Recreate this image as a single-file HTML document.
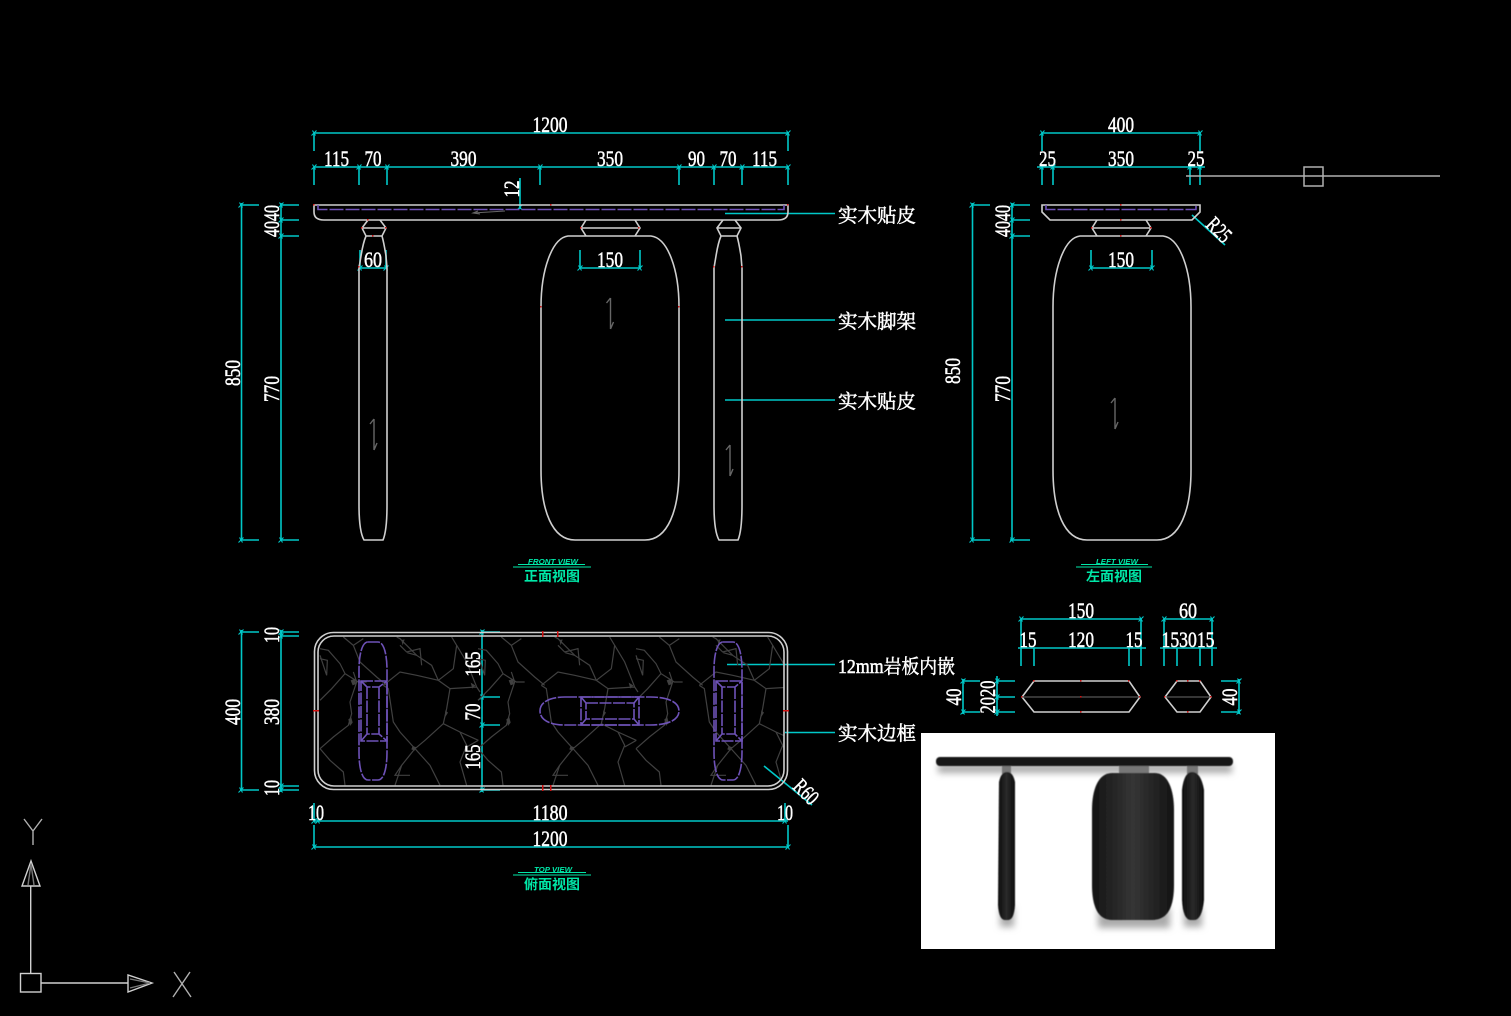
<!DOCTYPE html>
<html><head><meta charset="utf-8"><style>
html,body{margin:0;padding:0;background:#000;width:1511px;height:1016px;overflow:hidden}
svg{display:block;position:absolute;left:0;top:0}
.d{font:22px "Liberation Serif",serif;fill:#fff;text-anchor:middle;stroke:#fff;stroke-width:.5}
.c{font:19.5px "Liberation Serif","Noto Serif CJK SC",serif;fill:#fff;stroke:#fff;stroke-width:.5}
.g{font:13.5px "Noto Sans CJK SC",sans-serif;font-weight:700;fill:#00e8a8;text-anchor:middle}
.e{font:italic 700 7.5px "Liberation Sans",sans-serif;fill:#00e8a8;text-anchor:middle}
.cy{stroke:#00c8c8;stroke-width:1.6;fill:none}
.w{stroke:#cfcfcf;stroke-width:1.6;fill:none}
.p{stroke:#6e52b8;stroke-width:1.6;fill:none;stroke-dasharray:14 2}
.v{stroke:#404040;stroke-width:3.6;fill:none}
.r{fill:#d01010}
</style></head><body>
<svg width="1511" height="1016" viewBox="0 0 1511 1016" xmlns="http://www.w3.org/2000/svg">
<defs>
<linearGradient id="lg" x1="0" x2="1" y1="0" y2="0"><stop offset="0" stop-color="#141414"/><stop offset=".5" stop-color="#353535"/><stop offset="1" stop-color="#141414"/></linearGradient>
<linearGradient id="lk" x1="0" x2="1" y1="0" y2="0"><stop offset="0" stop-color="#0c0c0c"/><stop offset=".5" stop-color="#2a2a2a"/><stop offset="1" stop-color="#0c0c0c"/></linearGradient>
<path id="x" d="M-2.500 2.500L2.500 -2.500M-1.500 -2.500L1.500 2.500" stroke="#00c8c8" stroke-width="1.100" fill="none"/>
<path id="body" d="M568 236L651 236C668 238 679 270 679 307L679 470C679 510 668 540 645 540L575 540C552 540 541 510 541 470L541 307C541 270 552 238 568 236Z" class="w"/>
<path id="leg" d="M368 220L362 228L366 236L382 236L386 228L380 220M362 228L386 228M366 236C363 243 362 250 361 256L359 268L359 505C359 520 360 533 364 540L383 540C386 533 387 520 387 505L387 268L386 256C385 250 384 243 382 236" class="w"/>
<path id="neck" d="M586 220L581 228L586 236M635 220L640 228L635 236M581 228L640 228" class="w"/>
<g id="tile">
<g transform="translate(320 632) scale(.3333)">
<path class="v" d="M0 205L35 170L75 125L115 150L140 150M75 125L60 95L25 55L0 50"/>
<path class="v" d="M0 350L40 315L85 280L95 245L90 210L110 150L100 120"/>
<path class="v" d="M190 160L240 120L290 130L355 145L390 170L380 230L370 275L315 325L285 350L240 300L220 270L205 170L190 160"/>
<path class="v" d="M285 350L330 400L360 460M285 350L245 400L225 460M0 350L30 385L70 420L75 460"/>
<path class="v" d="M370 275L420 300L475 325M355 145L335 100L290 70L240 20L230 15M355 145L400 110L410 40L395 15"/>
<path class="v" d="M410 40L440 90L470 165L480 180M390 170L470 165M240 40L260 60L300 50L305 100M262 62L290 70"/>
<path class="v" d="M0 70L20 130L22 85L0 80M70 15L100 40L130 20M100 40L120 90L170 135L200 160"/>
<path class="v" d="M245 400L225 430L270 430M420 300L440 340L420 390L440 460M475 325L440 345"/>
<path d="M85 262L94 256L98 272L90 282ZM278 342L290 346L284 356L274 352ZM376 235L384 242L374 258ZM452 152L466 160L457 170ZM244 24L254 22L248 40ZM92 145L106 140L108 156L98 160Z" fill="#404040"/>
</g>
</g>
<clipPath id="cp"><rect x="318" y="636" width="466" height="150" rx="16"/></clipPath>
<filter id="b1" x="-30%" y="-30%" width="160%" height="160%"><feGaussianBlur stdDeviation="3.500"/></filter>
<filter id="b0"><feGaussianBlur stdDeviation=".5"/></filter>
<path id="arr" d="M0 -16V15M-4 -11L0 -16M0 15L3 8" stroke="#666" stroke-width="1.400" fill="none"/>
<path id="cap" d="M368 642H378C384 642 387 655 387 670V752C387 768 384 780 378 780H368C362 780 359 768 359 752V670C359 655 362 642 368 642Z"/>
</defs>

<g class="cy">
<path d="M314 133H788M314 133V151M788 133V151"/>
<path d="M314 167H788M314 167V185M359 167V185M387 167V185M540 167V185M679 167V185M714 167V185M742 167V185M788 167V185"/>
<path d="M520 178V209"/>
<path d="M241.500 203V540M240 205H259M240 540H259M281 203V540M280 205H299M280 220H299M280 236H299M280 540H299"/>
<path d="M360 250V268H386M386 250V268M580 250V268H640V250"/>
<path d="M725 213.500H835M725 320H835M725 400H835"/>
<path d="M1042 133H1200M1042 133V151M1200 133V151M1037 167H1205M1042 167V185M1053 167V185M1190 167V185M1200 167V185"/>
<path d="M972.500 203V540M972 205H990M972 540H990M1012 203V540M1011 205H1030M1011 220H1030M1011 236H1030M1010 540H1030M1091 250V268H1152V250"/>
<path d="M1192 215L1225 245"/>
<path d="M241.500 630V790M240 632H259M240 790H259M281 630V792M280 632H299M280 636H299M280 786H299M280 790H299"/>
<path d="M482 630V792M482 632H500M482 697H500M482 725H500M482 790H500"/>
<path d="M314 821H788M314 825V847H788V825M314 803V821M785 803V821"/>
<path d="M785 732.500H835M727 664.500H835M764 766L812 805"/>
<path d="M1021 619H1141M1021 619V666M1141 619V666M1034 648V666M1129 648V666M1018 648H1146"/>
<path d="M1164 619H1212M1164 619V666M1212 619V666M1177 648V666M1200 648V666M1160 648H1217"/>
<path d="M963 679V714M963 681H980M963 712H980M997 676V716M997 681H1015M997 697H1015M997 712H1015M1239 679V714M1221 681H1240M1221 712H1240"/>
</g>
<g>
<use href="#x" x="314" y="133"/><use href="#x" x="788" y="133"/>
<use href="#x" x="314" y="167"/><use href="#x" x="359" y="167"/><use href="#x" x="387" y="167"/><use href="#x" x="540" y="167"/><use href="#x" x="679" y="167"/><use href="#x" x="714" y="167"/><use href="#x" x="742" y="167"/><use href="#x" x="788" y="167"/>
<use href="#x" x="241" y="205"/><use href="#x" x="241" y="540"/><use href="#x" x="281" y="205"/><use href="#x" x="281" y="220"/><use href="#x" x="281" y="236"/><use href="#x" x="281" y="540"/>
<use href="#x" x="360" y="268"/><use href="#x" x="386" y="268"/><use href="#x" x="580" y="268"/><use href="#x" x="640" y="268"/>
<use href="#x" x="520" y="207"/>
<use href="#x" x="1042" y="133"/><use href="#x" x="1200" y="133"/><use href="#x" x="1042" y="167"/><use href="#x" x="1053" y="167"/><use href="#x" x="1190" y="167"/><use href="#x" x="1200" y="167"/>
<use href="#x" x="972" y="205"/><use href="#x" x="972" y="540"/><use href="#x" x="1012" y="205"/><use href="#x" x="1012" y="220"/><use href="#x" x="1012" y="236"/><use href="#x" x="1012" y="540"/>
<use href="#x" x="1091" y="268"/><use href="#x" x="1152" y="268"/>
<use href="#x" x="241" y="632"/><use href="#x" x="241" y="790"/><use href="#x" x="281" y="632"/><use href="#x" x="281" y="636"/><use href="#x" x="281" y="786"/><use href="#x" x="281" y="790"/>
<use href="#x" x="482" y="632"/><use href="#x" x="482" y="697"/><use href="#x" x="482" y="725"/><use href="#x" x="482" y="790"/>
<use href="#x" x="314" y="821"/><use href="#x" x="318" y="821"/><use href="#x" x="785" y="821"/><use href="#x" x="314" y="847"/><use href="#x" x="788" y="847"/>
<use href="#x" x="1021" y="619"/><use href="#x" x="1141" y="619"/><use href="#x" x="1164" y="619"/><use href="#x" x="1212" y="619"/>
<use href="#x" x="963" y="681"/><use href="#x" x="963" y="712"/><use href="#x" x="997" y="681"/><use href="#x" x="997" y="697"/><use href="#x" x="997" y="712"/><use href="#x" x="1239" y="681"/><use href="#x" x="1239" y="712"/>
</g>

<path class="w" d="M314 205H788V212Q788 220 778 220H324Q314 220 314 212Z"/>
<path class="p" d="M318 205V209.500H784V205"/>
<use href="#leg"/>
<use href="#leg" x="355"/>
<use href="#neck"/>
<use href="#body"/>
<use href="#arr" transform="translate(374 435)"/>
<use href="#arr" transform="translate(730 461)"/>
<use href="#arr" transform="translate(610.500 314)"/>
<use href="#arr" transform="translate(1115 414)"/>
<path d="M473 213L505 211M478 211L473 213L480 214" stroke="#666" fill="none"/>

<path class="w" d="M1042 205H1200V212L1192 220H1050L1042 212Z"/>
<path class="p" d="M1046 205V209.500H1196V205"/>
<path class="w" d="M1097 220L1092 228L1097 236M1146 220L1151 228L1146 236M1092 228H1151"/>
<use href="#body" x="512"/>
<path d="M1186 176H1440" stroke="#b0b0b0" stroke-width="1.500"/>
<rect x="1304" y="167" width="19" height="19" fill="none" stroke="#b0b0b0" stroke-width="1.500"/>

<g clip-path="url(#cp)">
<use href="#tile"/><use href="#tile" x="158"/><use href="#tile" x="316"/>
</g>
<rect class="w" x="314.500" y="632.500" width="473" height="157" rx="19"/>
<rect class="w" x="318" y="636" width="466" height="150" rx="16"/>
<g class="p" style="stroke-dasharray:12 1.500">
<use href="#cap"/>
<rect x="361" y="681" width="26" height="60"/>
<path d="M361 681L367 687H379L387 681M361 741L367 734H379L387 741M367 687V734M379 687V734"/>
<use href="#cap" x="355"/>
<rect x="716" y="681" width="26" height="60"/>
<path d="M716 681L722 687H735L742 681M716 741L722 734H735L742 741M722 687V734M735 687V734"/>
<path d="M565 697H650C668 697 679 702 679 711C679 720 668 725 650 725H565C550 725 540 720 540 711C540 702 550 697 565 697Z"/>
<rect x="581" y="697" width="58" height="28"/>
<rect x="586" y="703" width="48" height="16"/>
<path d="M581 697L586 703M639 697L634 703M581 725L586 719M639 725L634 719"/>
</g>

<path class="w" d="M1034 681H1129L1140 697L1129 712H1034L1022 697Z"/>
<path d="M1022 697H1140M1165 697H1211" stroke="#555" stroke-width="1.200"/>
<path class="w" d="M1177 681H1200L1211 697L1200 712H1177L1165 697Z"/>

<g class="r">
<rect x="313" y="204" width="1.500" height="1.500"/><rect x="787" y="204" width="1.500" height="1.500"/><rect x="550" y="204" width="1.500" height="1.500"/>
<rect x="367" y="219" width="1.500" height="1.500"/><rect x="361" y="227" width="1.500" height="1.500"/><rect x="385" y="227" width="1.500" height="1.500"/><rect x="372" y="235" width="1.500" height="1.500"/>
<rect x="580" y="227" width="1.500" height="1.500"/><rect x="638" y="227" width="1.500" height="1.500"/>
<rect x="540" y="306" width="1.500" height="1.500"/><rect x="678" y="306" width="1.500" height="1.500"/><rect x="358" y="266" width="1.500" height="1.500"/><rect x="713" y="266" width="1.500" height="1.500"/><rect x="741" y="266" width="1.500" height="1.500"/>
<rect x="1120" y="204" width="1.500" height="1.500"/><rect x="1120" y="219" width="1.500" height="1.500"/><rect x="1120" y="235" width="1.500" height="1.500"/><rect x="1091" y="227" width="1.500" height="1.500"/><rect x="1150" y="227" width="1.500" height="1.500"/>
<rect x="313" y="710" width="6" height="1.500"/><rect x="783" y="710" width="6" height="1.500"/><rect x="542" y="631" width="1.500" height="6"/><rect x="557" y="631" width="1.500" height="6"/><rect x="542" y="785" width="1.500" height="6"/><rect x="550" y="785" width="1.500" height="6"/>
<rect x="1033" y="680" width="1.500" height="1.500"/><rect x="1128" y="680" width="1.500" height="1.500"/><rect x="1080" y="680" width="1.500" height="1.500"/><rect x="1080" y="696" width="1.500" height="1.500"/><rect x="1080" y="711" width="1.500" height="1.500"/><rect x="1021" y="696" width="1.500" height="1.500"/><rect x="1139" y="696" width="1.500" height="1.500"/>
<rect x="1176" y="680" width="1.500" height="1.500"/><rect x="1187" y="680" width="1.500" height="1.500"/><rect x="1199" y="680" width="1.500" height="1.500"/><rect x="1187" y="711" width="1.500" height="1.500"/><rect x="1164" y="696" width="1.500" height="1.500"/><rect x="1210" y="696" width="1.500" height="1.500"/>
</g>

<text class="d" x="550" y="132" textLength="35" lengthAdjust="spacingAndGlyphs">1200</text>
<text class="d" x="336.500" y="166" textLength="25" lengthAdjust="spacingAndGlyphs">115</text>
<text class="d" x="373" y="166" textLength="17" lengthAdjust="spacingAndGlyphs">70</text>
<text class="d" x="463.500" y="166" textLength="26" lengthAdjust="spacingAndGlyphs">390</text>
<text class="d" x="610" y="166" textLength="26" lengthAdjust="spacingAndGlyphs">350</text>
<text class="d" x="696.500" y="166" textLength="17" lengthAdjust="spacingAndGlyphs">90</text>
<text class="d" x="728" y="166" textLength="17" lengthAdjust="spacingAndGlyphs">70</text>
<text class="d" x="764.500" y="166" textLength="25" lengthAdjust="spacingAndGlyphs">115</text>
<text class="d" transform="translate(519 189) rotate(-90)" textLength="17" lengthAdjust="spacingAndGlyphs">12</text>
<text class="d" x="373" y="267" textLength="18" lengthAdjust="spacingAndGlyphs">60</text>
<text class="d" x="610" y="267" textLength="26" lengthAdjust="spacingAndGlyphs">150</text>
<text class="d" transform="translate(240 373) rotate(-90)" textLength="26" lengthAdjust="spacingAndGlyphs">850</text>
<text class="d" transform="translate(279 389) rotate(-90)" textLength="26" lengthAdjust="spacingAndGlyphs">770</text>
<text class="d" transform="translate(279 221) rotate(-90)" textLength="32" lengthAdjust="spacingAndGlyphs">4040</text>

<text class="d" x="1121" y="132" textLength="26" lengthAdjust="spacingAndGlyphs">400</text>
<text class="d" x="1047.500" y="166" textLength="17" lengthAdjust="spacingAndGlyphs">25</text>
<text class="d" x="1121" y="166" textLength="26" lengthAdjust="spacingAndGlyphs">350</text>
<text class="d" x="1196" y="166" textLength="17" lengthAdjust="spacingAndGlyphs">25</text>
<text class="d" x="1121" y="267" textLength="26" lengthAdjust="spacingAndGlyphs">150</text>
<text class="d" transform="translate(960 371) rotate(-90)" textLength="26" lengthAdjust="spacingAndGlyphs">850</text>
<text class="d" transform="translate(1010 389) rotate(-90)" textLength="26" lengthAdjust="spacingAndGlyphs">770</text>
<text class="d" transform="translate(1010 221) rotate(-90)" textLength="32" lengthAdjust="spacingAndGlyphs">4040</text>
<text class="d" transform="translate(1214 235) rotate(45)" textLength="26" lengthAdjust="spacingAndGlyphs">R25</text>

<text class="d" transform="translate(240 712) rotate(-90)" textLength="26" lengthAdjust="spacingAndGlyphs">400</text>
<text class="d" transform="translate(279 712) rotate(-90)" textLength="26" lengthAdjust="spacingAndGlyphs">380</text>
<text class="d" transform="translate(279 635) rotate(-90)" textLength="16" lengthAdjust="spacingAndGlyphs">10</text>
<text class="d" transform="translate(279 788) rotate(-90)" textLength="16" lengthAdjust="spacingAndGlyphs">10</text>
<text class="d" transform="translate(480 664) rotate(-90)" textLength="25" lengthAdjust="spacingAndGlyphs">165</text>
<text class="d" transform="translate(480 712) rotate(-90)" textLength="17" lengthAdjust="spacingAndGlyphs">70</text>
<text class="d" transform="translate(480 757) rotate(-90)" textLength="25" lengthAdjust="spacingAndGlyphs">165</text>
<text class="d" x="316" y="820" textLength="16" lengthAdjust="spacingAndGlyphs">10</text>
<text class="d" x="550" y="820" textLength="35" lengthAdjust="spacingAndGlyphs">1180</text>
<text class="d" x="785" y="820" textLength="16" lengthAdjust="spacingAndGlyphs">10</text>
<text class="d" x="550" y="846" textLength="35" lengthAdjust="spacingAndGlyphs">1200</text>
<text class="d" transform="translate(801 797) rotate(45)" textLength="26" lengthAdjust="spacingAndGlyphs">R60</text>

<text class="d" x="1081" y="618" textLength="26" lengthAdjust="spacingAndGlyphs">150</text>
<text class="d" x="1188" y="618" textLength="18" lengthAdjust="spacingAndGlyphs">60</text>
<text class="d" x="1028" y="647" textLength="17" lengthAdjust="spacingAndGlyphs">15</text>
<text class="d" x="1081" y="647" textLength="26" lengthAdjust="spacingAndGlyphs">120</text>
<text class="d" x="1134" y="647" textLength="17" lengthAdjust="spacingAndGlyphs">15</text>
<text class="d" x="1188" y="647" textLength="53" lengthAdjust="spacingAndGlyphs">153015</text>
<text class="d" transform="translate(961 697) rotate(-90)" textLength="17" lengthAdjust="spacingAndGlyphs">40</text>
<text class="d" transform="translate(995 697) rotate(-90)" textLength="33" lengthAdjust="spacingAndGlyphs">2020</text>
<text class="d" transform="translate(1237 697) rotate(-90)" textLength="17" lengthAdjust="spacingAndGlyphs">40</text>

<text class="c" x="838" y="222">实木贴皮</text>
<text class="c" x="838" y="328">实木脚架</text>
<text class="c" x="838" y="408">实木贴皮</text>
<text class="c" x="838" y="673" textLength="117" lengthAdjust="spacingAndGlyphs">12mm岩板内嵌</text>
<text class="c" x="838" y="740">实木边框</text>

<g>
<text class="e" x="553" y="564" textLength="50" lengthAdjust="spacingAndGlyphs">FRONT VIEW</text>
<path d="M518 564.500H585M513 567H591M1081 564.500H1148M1076 567H1152M518 872.500H586M513 875H591" stroke="#00e8a8" stroke-width="1"/>
<text class="g" x="552" y="581" textLength="56" lengthAdjust="spacingAndGlyphs">正面视图</text>
<text class="e" x="1117" y="564" textLength="42" lengthAdjust="spacingAndGlyphs">LEFT VIEW</text>
<text class="g" x="1114" y="581" textLength="56" lengthAdjust="spacingAndGlyphs">左面视图</text>
<text class="e" x="553" y="872" textLength="38" lengthAdjust="spacingAndGlyphs">TOP VIEW</text>
<text class="g" x="552" y="889" textLength="56" lengthAdjust="spacingAndGlyphs">俯面视图</text>
</g>

<rect x="921" y="733" width="354" height="216" fill="#fff"/>
<g filter="url(#b1)" fill="#aaa">
<rect x="938" y="764" width="294" height="9"/>
<rect x="1000" y="908" width="14" height="19"/>
<rect x="1098" y="908" width="72" height="20"/>
<rect x="1184" y="908" width="18" height="19"/>
</g>
<g filter="url(#b0)">
<rect x="1119" y="764" width="30" height="11" fill="#777"/>
<rect x="1002" y="765" width="9" height="9" fill="#777"/>
<rect x="1187" y="765" width="11" height="9" fill="#777"/>
<rect x="936" y="757" width="297" height="9" rx="4" fill="#151515"/>
<path d="M999 782Q1001 772 1007 772Q1013 772 1015 782V905Q1014 920 1008 920H1005Q999 920 998 905Z" fill="url(#lk)"/>
<path d="M1112 773H1155C1168 773 1174 790 1174 810V885C1174 910 1166 920 1152 920H1112C1100 920 1092 910 1092 885V810C1092 790 1098 773 1112 773Z" fill="url(#lg)"/>
<path d="M1182 790Q1184 772 1192 772Q1201 772 1204 790L1204 900Q1202 920 1194 920H1191Q1183 920 1182 900Z" fill="url(#lk)"/>
</g>

<g stroke="#d0d0d0" stroke-width="1.400" fill="none">
<rect x="20.500" y="973.500" width="20.500" height="18.500"/>
<path d="M30.700 973V886M41 983H128"/>
<path d="M31 861L22 886H40Z"/>
<path d="M128 975V992L152 983Z"/>
<path d="M31 864L28 885M31 864L34 885M130 979L150 983M130 988L150 983" stroke="#777"/>
<path d="M24 819L33 831L42 819M33 831V845" stroke="#b0b0b0"/>
<path d="M174 972L191 997M190 972L173 997" stroke="#b0b0b0"/>
</g>
</svg>
</body></html>
